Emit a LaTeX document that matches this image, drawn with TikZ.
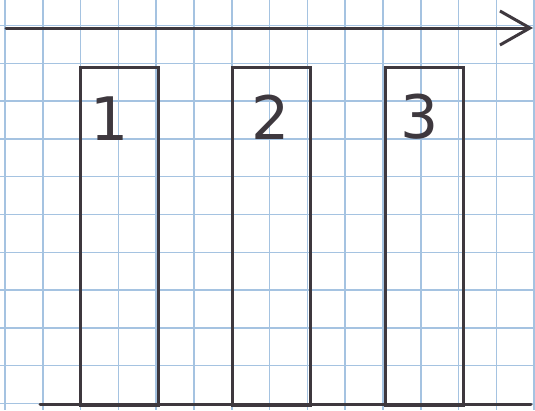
\documentclass[tikz,border=0pt]{standalone}
\usepackage{fontspec}
\setmainfont{DejaVu Sans}
\usetikzlibrary{arrows.meta}
\definecolor{gridblue}{RGB}{165,195,225}
\definecolor{ink}{RGB}{62,56,62}
\tikzset{
  gridline/.style={draw=gridblue, line width=1.5pt},
  inkline/.style={draw=ink, line width=3pt, line cap=round},
  bar/.style={inkline, rectangle, minimum width=78pt, minimum height=338pt, inner sep=0pt, anchor=north west},
  digit/.style={text=ink, font=\fontsize{60}{60}\selectfont, inner sep=0pt}
}
\begin{document}
\begin{tikzpicture}[x=1pt,y=-1pt]
\useasboundingbox[fill=white] (0,0) rectangle (535,410);
% graph paper
\foreach \k in {0,...,14} \draw[gridline] ({5+37.8*\k},0) -- ({5+37.8*\k},410);
\foreach \k in {0,...,10} \draw[gridline] (0,{25.5+37.8*\k}) -- (535,{25.5+37.8*\k});
% axis arrow
\coordinate (as) at (6,28);
\coordinate (ae) at (533,28);
\draw[inkline, -{Straight Barb[length=30pt, width=34pt, line width=3pt]}] (as) -- (ae);
% base line
\coordinate (bs) at (40,404);
\coordinate (be) at (531,404);
\draw[inkline] (bs) -- (be);
% bars
\node[bar] (b1) at (79,66) {};
\node[bar] (b2) at (231,66) {};
\node[bar] (b3) at (384,66) {};
% labels
\node[digit] (l1) at (110,119) {1};
\node[digit] (l2) at (271,117) {2};
\node[digit] (l3) at (420,117) {3};
\end{tikzpicture}
\end{document}
